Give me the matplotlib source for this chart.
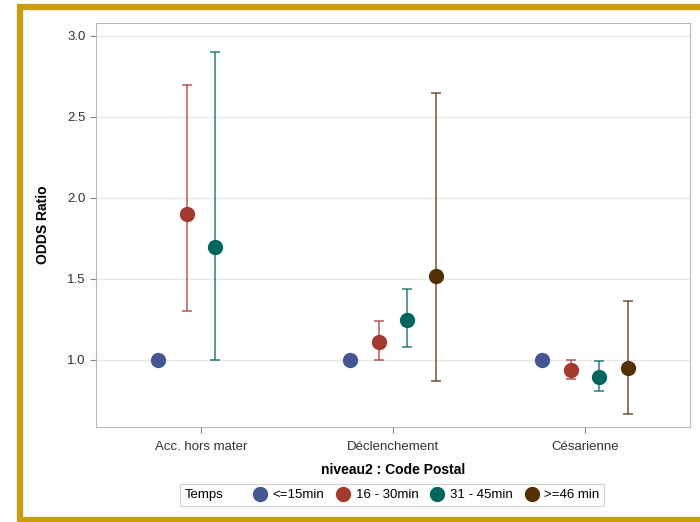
import matplotlib.pyplot as plt
from matplotlib.lines import Line2D
from matplotlib.patches import Rectangle
from matplotlib.offsetbox import HPacker

plt.rcParams['font.family'] = ['Liberation Sans', 'DejaVu Sans']

categories = ['Acc. hors mater', 'Déclenchement', 'Césarienne']
groups = ['<=15min', '16 - 30min', '31 - 45min', '>=46 min']
colors = ['#445694', '#A23A2E', '#01665E', '#543005']

# odds ratio with lower / upper bounds, one list per group (None = not shown)
or_15 = [1.0, 1.0, 1.0]
lo_15 = [1.0, 1.0, 1.0]
hi_15 = [1.0, 1.0, 1.0]

or_30 = [1.90, 1.11, 0.94]
lo_30 = [1.30, 1.00, 0.885]
hi_30 = [2.70, 1.24, 1.00]

or_45 = [1.70, 1.245, 0.895]
lo_45 = [1.00, 1.08, 0.81]
hi_45 = [2.90, 1.44, 0.995]

or_46 = [None, 1.517, 0.953]
lo_46 = [None, 0.87, 0.665]
hi_46 = [None, 2.645, 1.365]

series = [(or_15, lo_15, hi_15), (or_30, lo_30, hi_30),
          (or_45, lo_45, hi_45), (or_46, lo_46, hi_46)]
offsets = [-0.223, -0.074, 0.074, 0.223]

fig = plt.figure(figsize=(7, 5.22), dpi=100)
# gold frame around the panel
fig.patches.append(Rectangle((20 / 700, 2 / 522), 700 / 700, 513 / 522,
                             transform=fig.transFigure, facecolor='#FDFDFD',
                             edgecolor='#CC9C10', linewidth=4.5, zorder=-1))
ax = fig.add_axes([96 / 700, 95 / 522, 594 / 700, 404 / 522], zorder=2)
ax.set_facecolor('white')

for (vals, lo, hi), off, c in zip(series, offsets, colors):
    for i in range(len(categories)):
        if vals[i] is None:
            continue
        x = i + off
        if hi[i] > lo[i]:
            ax.errorbar([x], [vals[i]], yerr=[[vals[i] - lo[i]], [hi[i] - vals[i]]],
                        fmt='none', ecolor=c, alpha=0.7, elinewidth=1.3,
                        capsize=3.3, capthick=1.3, zorder=2)
        ax.plot([x], [vals[i]], 'o', color=c, markersize=10,
                markeredgecolor=c, zorder=3)

ax.set_xlim(-0.545, 2.545)
ax.set_ylim(0.586, 3.08)
ax.set_xticks(range(len(categories)))
ax.set_xticklabels(categories)
ax.set_yticks([1.0, 1.5, 2.0, 2.5, 3.0])
ax.set_yticklabels(['1.0', '1.5', '2.0', '2.5', '3.0'])
ax.grid(axis='y', color='#E8E8E8', linewidth=1)
ax.set_axisbelow(True)
for s in ax.spines.values():
    s.set_color('#B8B8B8')
ax.tick_params(colors='#888888', labelcolor='#333333', labelsize=9.5, length=4)
ax.tick_params(axis='x', pad=6)

ax.set_ylabel('ODDS Ratio', fontsize=10, fontweight='bold', labelpad=12)
ax.set_xlabel('niveau2 : Code Postal', fontsize=10, fontweight='bold', labelpad=7)

handles = [Line2D([], [], linestyle='none', marker='o', color=c, markersize=10)
           for c in colors]
leg = fig.legend(handles, groups, title='Temps', title_fontsize=9.5,
                 loc='center', bbox_to_anchor=(392 / 700, 1 - 495 / 522),
                 ncol=4, fontsize=9.5, frameon=True, fancybox=False,
                 handlelength=0.9, handletextpad=0.5, columnspacing=1.0,
                 borderpad=0.35)
# put the legend title on the left of the entries
box = HPacker(pad=leg._legend_box.pad, sep=22, align='center',
              children=[leg._legend_title_box, leg._legend_handle_box])
box.set_figure(fig)
box.set_offset(leg._findoffset)
leg._legend_box = box
leg.get_frame().set_edgecolor('#C8C8C8')
leg.get_frame().set_linewidth(0.8)

fig.savefig('out.png', dpi=100)
